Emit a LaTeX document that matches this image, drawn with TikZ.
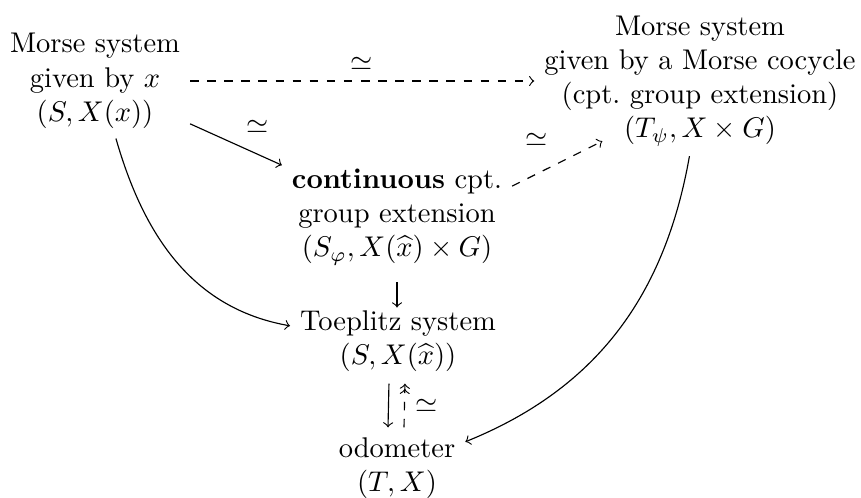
\documentclass[tikz,border=0pt]{standalone}
\usetikzlibrary{calc}
\begin{document}
\begin{tikzpicture}[x=0.3509pt,y=-0.3509pt,>=to,
  box/.style={align=center, inner sep=3.33pt},
  lab/.style={inner sep=0pt}]
\useasboundingbox (0,0) rectangle (861,497);
\node[box] (A) at (95,81) {Morse system\\ given by $x$\\ $(S,X(x))$};
\node[box] (B) at (700,81) {Morse system\\ given by a Morse cocycle\\ (cpt.\ group extension)\\ $(T_\psi, X\times G)$};
\node[box] (C) at (397,217) {\textbf{continuous} cpt.\\ group extension\\ $(S_\varphi, X(\widehat{x})\times G)$};
\node[box] (D) at (398,341) {Toeplitz system\\ $(S,X(\widehat{x}))$};
\node[box] (E) at (397,468) {odometer\\ $(T,X)$};
% arrows
\draw[->] (A) -- (C);
\node[lab] (eq1) at (258,127) {$\simeq$};
\draw[dashed,->] (A) -- (B);
\node[lab] (eq2) at (362,64) {$\simeq$};
\draw[dashed,->] (C.15) -- ([shift={(68,-15)}]B.south west);
\node[lab] (eq3) at (537,140) {$\simeq$};
\draw[->, shorten <=2.5pt, shorten >=-2.5pt] (C.south) -- (C.south |- D.north);
\draw[->] (A.290) to[out=-74, in=170] (D.172);
\draw[->] (B.262) to[out=-100, in=22] (E.21);
\draw[->, shorten <=0.7pt] ([shift={(-9,0)}]D.south) -- ([shift={(-9,0)}]E.north);
\draw[dashed,->>, shorten >=0.7pt] ([shift={(7,0)}]E.north) -- ([shift={(7,0)}]D.south);
\node[lab] (eq4) at (427,406) {$\simeq$};
\end{tikzpicture}
\end{document}
